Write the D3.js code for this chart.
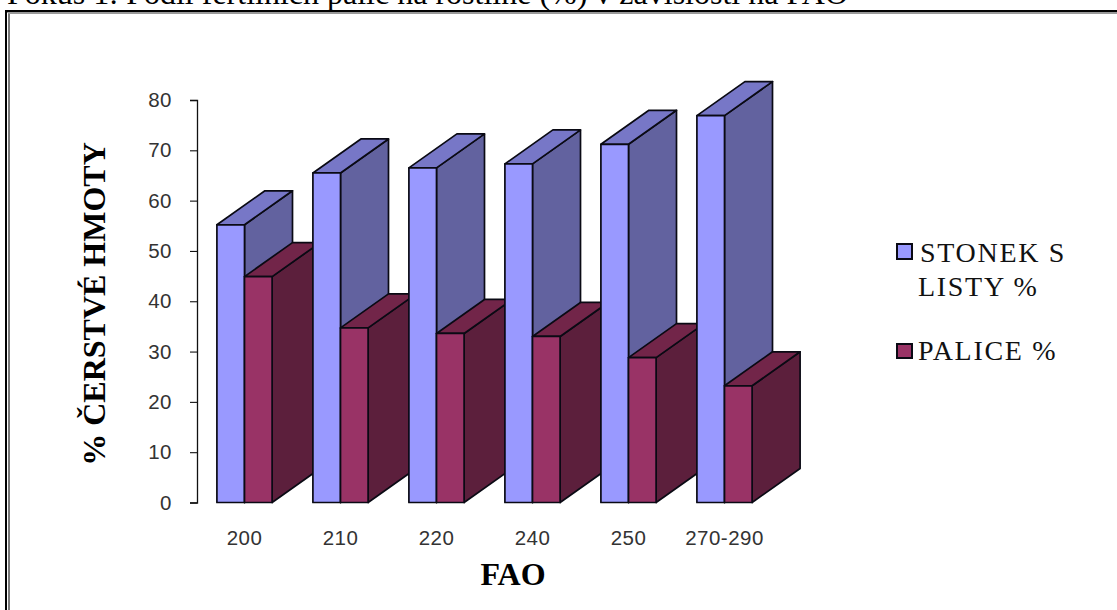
<!DOCTYPE html>
<html>
<head>
<meta charset="utf-8">
<script src="https://cdn.jsdelivr.net/npm/d3@7"></script>
<style>
html, body { margin: 0; padding: 0; background: #fff; overflow: hidden; }
svg { display: block; }
</style>
</head>
<body>
<svg id="chart" width="1117" height="610"></svg>
<script>
const categories = ["200", "210", "220", "240", "250", "270-290"];
const stonekListy = [55.2, 65.5, 66.5, 67.3, 71.2, 76.9];
const palice = [44.9, 34.7, 33.6, 33.0, 28.8, 23.2];
const yTicks = [0, 10, 20, 30, 40, 50, 60, 70, 80];
const heading = "Pokus 1: Podíl fertilních palic na rostlině (%) v závislosti na FAO";
const yTitle = "% ČERSTVÉ HMOTY";
const xTitle = "FAO";
const legendLines = [["STONEK S", "LISTY %"], ["PALICE %"]];

const svg = d3.select("#chart");
const serif = "'Liberation Serif', 'Times New Roman', serif";
const sans = "'Liberation Sans', Arial, sans-serif";

// Page heading, running past the top of the window, and the double frame below it
svg.append("text").attr("x", 7).attr("y", 3.5)
  .attr("font-family", serif).attr("font-size", 32).attr("fill", "#000")
  .text(heading);
svg.append("rect").attr("x", 5).attr("y", 10).attr("width", 1112).attr("height", 2.4).attr("fill", "#000");
svg.append("rect").attr("x", 5).attr("y", 10).attr("width", 2).attr("height", 600).attr("fill", "#000");
svg.append("rect").attr("x", 8.4).attr("y", 13).attr("width", 1.2).attr("height", 597).attr("fill", "#222");
svg.append("rect").attr("x", 8.4).attr("y", 13).attr("width", 1108.6).attr("height", 1).attr("fill", "#999");

// Scales
const y = d3.scaleLinear().domain([0, 80]).range([502.5, 100]);
const x = d3.scaleBand().domain(categories).range([196.5, 772.5]).paddingInner(0).paddingOuter(0);
const barW = 27.6;              // width of one bar's front face
const slotGap = (x.bandwidth() - 2 * barW) / 2;
const depthX = 48, depthY = -34; // oblique projection offset of the 3D boxes

const colors = {
  blue:  { front: "#9999ff", top: "#7777c7", side: "#62629f" },
  red:   { front: "#993366", top: "#722549", side: "#5c1f3c" }
};

const chart = svg.append("g");

function drawBox(g, x0, x1, val, c) {
  const yT = y(val), yB = y(0);
  const poly = (pts, fill) => g.append("polygon")
    .attr("points", pts.map(d => d.join(",")).join(" "))
    .attr("fill", fill)
    .attr("stroke", "#0a0a14")
    .attr("stroke-width", 1.7)
    .attr("stroke-linejoin", "round");
  poly([[x1, yT], [x1 + depthX, yT + depthY], [x1 + depthX, yB + depthY], [x1, yB]], c.side);
  poly([[x0, yT], [x1, yT], [x1 + depthX, yT + depthY], [x0 + depthX, yT + depthY]], c.top);
  poly([[x0, yT], [x1, yT], [x1, yB], [x0, yB]], c.front);
}

categories.forEach((cat, i) => {
  const g = chart.append("g");
  const left = x(cat) + slotGap;
  // The first series stands behind the second one, so it is drawn first
  drawBox(g, left, left + barW, stonekListy[i], colors.blue);
  drawBox(g, left + barW, left + 2 * barW, palice[i], colors.red);
});

// Value axis
const yAxis = d3.axisLeft(y).tickValues(yTicks).tickSize(7).tickPadding(18).tickFormat(d3.format("d"));
const ya = svg.append("g").attr("transform", "translate(197,0)").call(yAxis);
ya.selectAll("path").attr("stroke", "#111").attr("stroke-width", 1.3);
ya.selectAll("line").attr("stroke", "#111").attr("stroke-width", 1.1);
ya.selectAll("text").attr("font-family", sans).attr("font-size", 20.5)
  .attr("letter-spacing", 0.5).attr("fill", "#333");

// Category axis: labels only
const xAxis = d3.axisBottom(x).tickSize(0).tickPadding(0);
const xa = svg.append("g").attr("transform", "translate(0,530)").call(xAxis);
xa.select("path").remove();
xa.selectAll("text").attr("font-family", sans).attr("font-size", 20.5)
  .attr("letter-spacing", 0.5).attr("fill", "#333").attr("dy", "0.71em");

// Axis titles
svg.append("text")
  .attr("transform", "translate(104.5,304) rotate(-90)")
  .attr("text-anchor", "middle")
  .attr("font-family", serif).attr("font-size", 32).attr("font-weight", "bold").attr("fill", "#000")
  .text(yTitle);
svg.append("text").attr("x", 513).attr("y", 585).attr("text-anchor", "middle")
  .attr("font-family", serif).attr("font-size", 32).attr("font-weight", "bold").attr("fill", "#000")
  .text(xTitle);

// Legend
const legendRows = [
  { color: colors.blue.front, swatchY: 244, swatchH: 15, lines: legendLines[0], textY: [262, 296] },
  { color: colors.red.front, swatchY: 344, swatchH: 14, lines: legendLines[1], textY: [360] }
];
legendRows.forEach(row => {
  svg.append("rect").attr("x", 897).attr("y", row.swatchY).attr("width", 15).attr("height", row.swatchH)
    .attr("fill", row.color).attr("stroke", "#0a0a14").attr("stroke-width", 2);
  row.lines.forEach((t, j) => {
    svg.append("text").attr("x", j === 0 && row.lines.length > 1 ? 920 : 918).attr("y", row.textY[j])
      .attr("font-family", serif).attr("font-size", 28).attr("letter-spacing", 1.7).attr("fill", "#111")
      .text(t);
  });
});
</script>
</body>
</html>
